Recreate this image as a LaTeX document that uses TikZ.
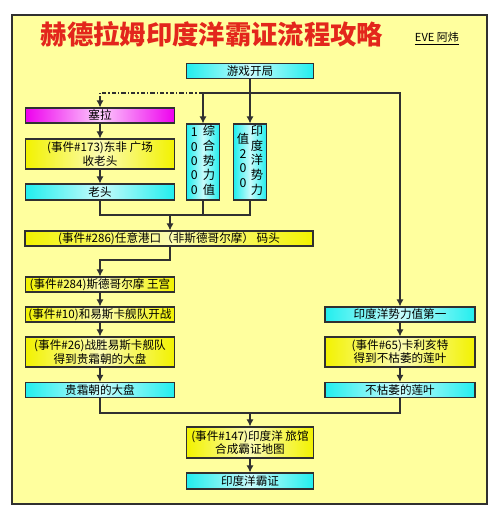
\documentclass[tikz,border=0pt]{standalone}
\usepackage{fontspec}
\setmainfont{Noto Sans CJK SC}
\usetikzlibrary{arrows.meta}
\definecolor{bgyellow}{HTML}{FFFF9E}
\definecolor{boxcyan}{HTML}{22EEEE}
\definecolor{boxyellow}{HTML}{F2F200}
\definecolor{boxmagenta}{HTML}{EE00EE}
\definecolor{titlered}{HTML}{E3261C}
\definecolor{linegray}{HTML}{303030}
\tikzset{
	wire/.style={draw=linegray, line width=0.65pt},
	arrow/.style={wire, -{Latex[length=4pt,width=4pt]}},
	dashdot/.style={dash pattern=on 2.5pt off 1.2pt on 0.6pt off 1.2pt},
	box/.style={draw=linegray, line width=0.65pt, inner sep=0pt, align=center,
		minimum width=2.98cm, minimum height=0.3cm, font=\fontsize{6.6}{7.5}\selectfont},
	cyanbox/.style={box, left color=boxcyan, right color=boxcyan, middle color=white!75!boxcyan},
	yellowbox/.style={box, left color=boxyellow, right color=boxyellow, middle color=white!70!boxyellow},
	pinkbox/.style={box, left color=boxmagenta, right color=boxmagenta, middle color=white!80!boxmagenta},
	colbox/.style={cyanbox, minimum width=0.65cm, minimum height=1.52cm, font=\fontsize{7}{8.2}\selectfont},
}
\newcommand{\digitcol}[1]{\begin{tabular}[b]{@{}c@{}}#1\end{tabular}}

\begin{document}
\begin{tikzpicture}[x=0.02cm, y=-0.02cm]

					\useasboundingbox (0,0) rectangle (500,520);
					\draw[draw=linegray, line width=0.9pt, fill=bgyellow] (12,15) rectangle (487,504);

					\node[text=titlered, font=\fontsize{15}{18}\selectfont\bfseries] (title) at (212,34) {赫德拉姆印度洋霸证流程攻略};
					\node[font=\fontsize{6.3}{7}\selectfont] (author) at (437,39) {\underline{EVE 阿炜}};

					\node[cyanbox, minimum width=2.54cm] (start) at (250,71) {游戏开局};

					\node[pinkbox] (sela) at (100,115.5) {塞拉};
					\node[yellowbox, minimum height=0.6cm] (ev173) at (100,154) {(事件\#173)东非 广场\\收老头};
					\node[cyanbox, minimum height=0.32cm] (laotou) at (100,192) {老头};

					\node[colbox] (zonghe) at (203,162) {\digitcol{1\\0\\0\\0\\0}\hspace{3pt}\digitcol{综\\合\\势\\力\\值}};
					\node[colbox] (yindu) at (250,162) {\raisebox{4pt}{\digitcol{值\\2\\0\\0}}\hspace{1pt}\digitcol{印\\度\\洋\\势\\力}};

					\node[yellowbox, minimum width=5.76cm] (ev286) at (169,238.5) {(事件\#286)任意港口（非斯德哥尔摩） 码头};

					\node[yellowbox] (ev284) at (100,284.5) {(事件\#284)斯德哥尔摩 王宫};
					\node[yellowbox] (ev10) at (100,314.5) {(事件\#10)和易斯卡舰队开战};
					\node[yellowbox, minimum height=0.6cm] (ev26) at (100,352) {(事件\#26)战胜易斯卡舰队\\得到贵霜朝的大盘};
					\node[cyanbox] (dapan) at (100,390) {贵霜朝的大盘};

					\node[cyanbox, minimum width=3cm] (first) at (400,314.5) {印度洋势力值第一};
					\node[yellowbox, minimum width=3cm, minimum height=0.6cm] (ev65) at (400,352) {(事件\#65)卡利亥特\\得到不枯萎的莲叶};
					\node[cyanbox, minimum width=3cm] (lianye) at (400,390) {不枯萎的莲叶};

					\node[yellowbox, minimum width=2.54cm, minimum height=0.62cm] (ev147) at (250,442.5) {(事件\#147)印度洋 旅馆\\合成霸证地图};
					\node[cyanbox, minimum width=2.54cm, minimum height=0.32cm] (bazheng) at (250,481) {印度洋霸证};

					\coordinate (fork) at (250,93);
					\coordinate (join1) at (170,215);
					\coordinate (bend) at (100,260);
					\coordinate (join3) at (250,413);

					\draw[arrow] (start) -- (yindu);
					\draw[arrow] (zonghe.north |- fork) -- (zonghe);
					\draw[arrow] (zonghe.north |- fork) -| (first);
					\draw[arrow, dashdot] (zonghe.north |- fork) -| (sela);

					\draw[arrow] (sela) -- (ev173);
					\draw[arrow] (ev173) -- (laotou);
					\draw[wire] (laotou.south) |- (yindu.south |- join1) -- (yindu.south);
					\draw[wire] (zonghe.south) -- (zonghe.south |- join1);
					\draw[arrow] (join1) -- (join1 |- ev286.north);

					\draw[arrow] (ev286.south -| join1) |- (bend) -- (ev284);
					\draw[arrow] (ev284) -- (ev10);
					\draw[arrow] (ev10) -- (ev26);
					\draw[arrow] (ev26) -- (dapan);

					\draw[arrow] (first) -- (ev65);
					\draw[arrow] (ev65) -- (lianye);

					\draw[wire] (dapan.south) |- (lianye.south |- join3) -- (lianye.south);
					\draw[arrow] (join3) -- (ev147);
					\draw[arrow] (ev147) -- (bazheng);

\end{tikzpicture}
\end{document}
